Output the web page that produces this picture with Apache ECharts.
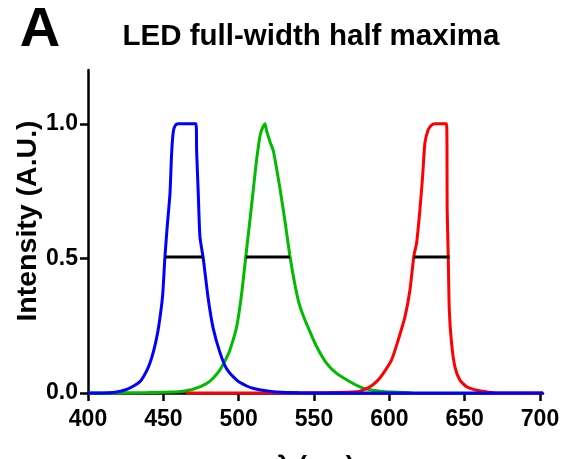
<!DOCTYPE html>
<html>
<head>
<meta charset="utf-8">
<script src="https://cdn.jsdelivr.net/npm/echarts@6/dist/echarts.min.js"></script>
<style>
html,body{margin:0;padding:0;background:#fff;}
#chart{width:568px;height:459px;}
</style>
</head>
<body>
<div id="chart"></div>
<script>
const xTicks = [400, 450, 500, 550, 600, 650, 700];
const yTicks = [0, 0.5, 1.0];

const blueNm = [400,410,418,425,430,434.5,437,440,442.5,445,447,449.5,451,452.6,454.4,455.5,456.6,458,460,471.7,472.1,473.2,474.3,476.5,479.8,483.1,487.6,492,498.7,505,510,518,525,540,560,702];
const blueI  = [0,0,0.003,0.012,0.025,0.042,0.062,0.095,0.135,0.19,0.25,0.36,0.5,0.62,0.74,0.89,0.97,0.995,1.0,1.0,0.9,0.74,0.58,0.5,0.35,0.24,0.15,0.09,0.048,0.027,0.017,0.008,0.004,0.001,0,0];

const greenNm = [400,415,440,460,467.7,475,479,483,487.6,491,494.2,498.7,502,504.8,507.5,509.7,511.9,514.1,515.3,517.5,518.5,519.6,521,523,525,527.4,530.7,534,537.4,540,543,547.3,551.8,558.4,565,573.9,580.5,587,595,605,615];
const greenI  = [0,0,0.002,0.005,0.011,0.025,0.036,0.055,0.086,0.12,0.16,0.247,0.37,0.51,0.643,0.755,0.866,0.953,0.978,1.0,0.975,0.955,0.93,0.9,0.84,0.76,0.64,0.51,0.4,0.335,0.285,0.228,0.172,0.11,0.073,0.042,0.023,0.012,0.006,0.003,0];

const redNm = [465,520,560,575,580.5,587.2,592,596,601.5,605.9,610.4,613.7,616.3,618.1,620.3,622.1,623.6,625.8,628,630.3,638,638.4,639.1,639.8,641.3,643.5,646.8,651.3,658,665,672,702];
const redI  = [0,0,0.002,0.004,0.007,0.023,0.045,0.073,0.123,0.197,0.284,0.383,0.51,0.557,0.68,0.805,0.928,0.978,0.995,1.0,1.0,0.68,0.51,0.309,0.185,0.098,0.048,0.023,0.01,0.004,0,0];

const fwhmStart = [451.1, 504.8, 616.3];
const fwhmEnd   = [476.5, 534.0, 640.0];
const halfLevel = 0.505;

const titleText = 'LED full-width half maxima';
const panelLetter = 'A';
const xName = 'λ (nm)';
const yName = 'Intensity (A.U.)';

const sans = '"Liberation Sans", Arial, Helvetica, sans-serif';

function pairs(xs, ys) { return xs.map((x, i) => [x, ys[i]]); }

const curveSeries = [
  { name: 'Green LED', color: '#00bb00', data: pairs(greenNm, greenI) },
  { name: 'Red LED', color: '#ff0000', data: pairs(redNm, redI) },
  { name: 'Blue LED', color: '#0000ff', data: pairs(blueNm, blueI) }
].map(s => ({
  name: s.name, type: 'line', data: s.data, showSymbol: false, symbol: 'none',
  smooth: 0.2, clip: false,
  lineStyle: { color: s.color, width: 3 }, itemStyle: { color: s.color }, z: 3
}));

const barSeries = fwhmStart.map((x0, i) => ({
  name: 'FWHM ' + (i + 1), type: 'line', showSymbol: false, symbol: 'none',
  data: [[x0, halfLevel], [fwhmEnd[i], halfLevel]],
  lineStyle: { color: '#000', width: 3 }, z: 4
}));

const chart = echarts.init(document.getElementById('chart'), null, { renderer: 'canvas' });
chart.setOption({
  animation: false,
  backgroundColor: '#fff',
  grid: { left: 88, top: 70, width: 455, height: 323, containLabel: false, outerBoundsMode: 'none' },
  xAxis: {
    type: 'value', min: 400, max: 702,
    name: xName, nameLocation: 'middle', nameGap: 61,
    nameTextStyle: { fontFamily: sans, fontWeight: 'bold', fontSize: 26, color: '#000' },
    axisLine: { show: true, onZero: false, lineStyle: { color: '#000', width: 2.5 } },
    axisTick: { show: true, length: 8, lineStyle: { color: '#000', width: 2.5 }, customValues: xTicks },
    axisLabel: { customValues: xTicks, color: '#000', fontFamily: sans, fontWeight: 'bold', fontSize: 23, margin: 15 },
    splitLine: { show: false }
  },
  yAxis: {
    type: 'value', min: 0, max: 1.2,
    axisLine: { show: true, onZero: false, lineStyle: { color: '#000', width: 2.5 } },
    axisTick: { show: true, length: 8, lineStyle: { color: '#000', width: 2.5 }, customValues: yTicks },
    axisLabel: { customValues: yTicks, formatter: v => v.toFixed(1), color: '#000', fontFamily: sans, fontWeight: 'bold', fontSize: 23, margin: 10 },
    splitLine: { show: false }
  },
  graphic: [
    { type: 'text', x: 40, y: 31, style: { text: panelLetter, fontFamily: sans, fontWeight: 'bold', fontSize: 56, fill: '#000', align: 'center', verticalAlign: 'middle' } },
    { type: 'text', x: 311, y: 37, style: { text: titleText, fontFamily: sans, fontWeight: 'bold', fontSize: 29.5, fill: '#000', align: 'center', verticalAlign: 'middle' } },
    { type: 'text', x: 28, y: 221, rotation: Math.PI / 2, style: { text: yName, fontFamily: sans, fontWeight: 'bold', fontSize: 28.5, fill: '#000', align: 'center', verticalAlign: 'middle' } }
  ],
  series: curveSeries.concat(barSeries)
});
</script>
</body>
</html>
